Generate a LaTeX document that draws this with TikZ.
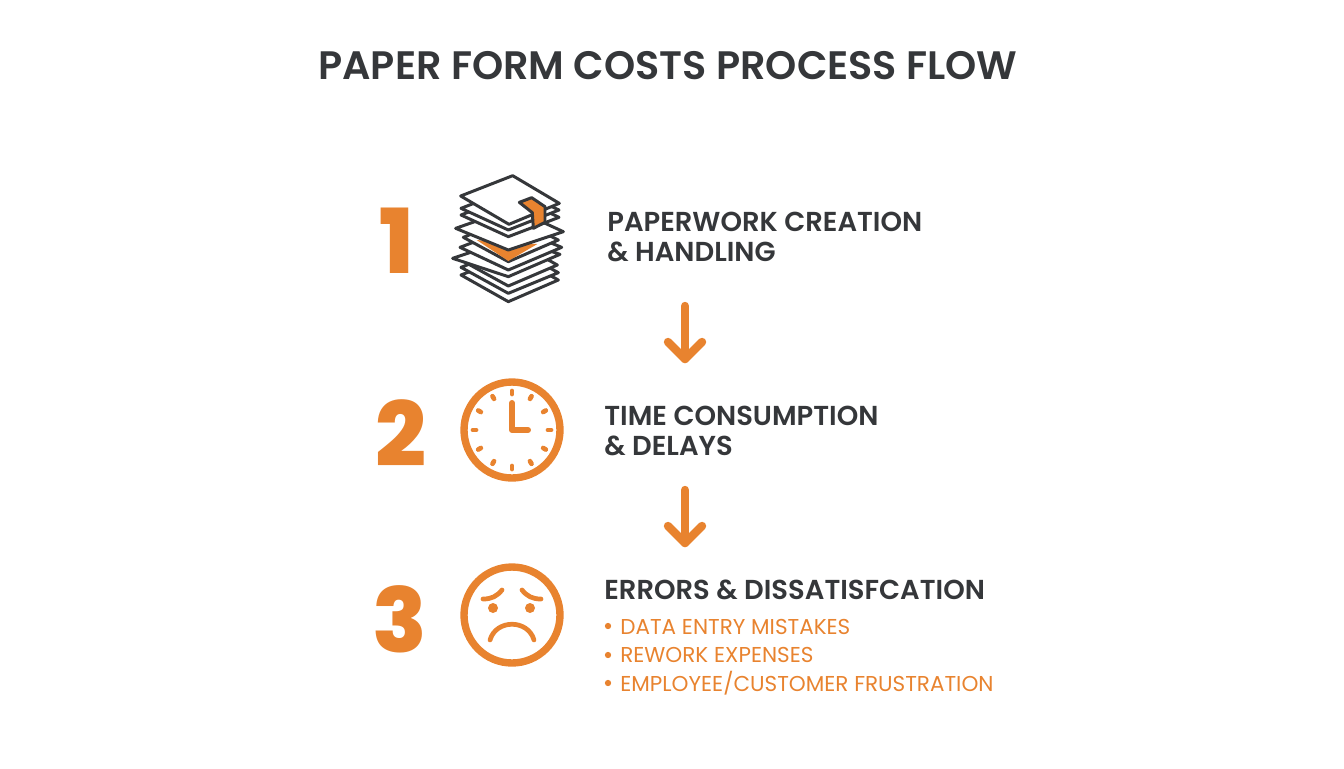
\documentclass[tikz,border=0pt]{standalone}
\usepackage{fontspec}
\usetikzlibrary{arrows.meta,calc}
\setmainfont{Poppins}[BoldFont={Poppins SemiBold}]
\newfontfamily\numfont{Poppins ExtraBold}
\definecolor{accent}{HTML}{E8832F}
\definecolor{ink}{HTML}{35373A}
\tikzset{
    numlabel/.style={anchor=base, text=accent, font=\fontsize{51}{51}\numfont},
    head/.style={anchor=base west, text=ink, font=\fontsize{15.6}{15.6}\selectfont\bfseries},
    sub/.style={anchor=base west, text=accent, font=\fontsize{12.25}{12.25}\selectfont},
    sheet/.style={draw=ink, fill=white, line width=1.7pt, line join=round},
    tick/.style={accent, line width=2.7pt, line cap=round},
    flow/.style={accent, line width=4.8pt, line cap=round, line join=round},
    ring/.style={circle, draw=accent, line width=4.2pt, minimum size=1.92cm, inner sep=0}
}
\begin{document}
\begin{tikzpicture}[x=0.02cm, y=-0.02cm]
        \useasboundingbox (0,0) rectangle (1344,768);
        \node [anchor=base, text=ink, font=\fontsize{22.6}{22.6}\selectfont\bfseries, inner sep=0] (title) at (668,79) {PAPER FORM COSTS PROCESS FLOW};

        \begin{scope}[every node/.append style={inner sep=0}]
            \node [numlabel] (n1) at (397,273) {1};
            \node [numlabel] (n2) at (401,466) {2};
            \node [numlabel] (n3) at (400,652) {3};
            \node [head] (h1a) at (607,231) {PAPERWORK CREATION};
            \node [head] (h1b) at (607,261) {\& HANDLING};
            \node [head] (h2a) at (604,425) {TIME CONSUMPTION};
            \node [head] (h2b) at (604,455) {\& DELAYS};
            \node [head] (h3) at (604,599) {ERRORS \& DISSATISFCATION};
            \node [sub] (s1) at (620,634) {DATA ENTRY MISTAKES};
            \node [sub] (s2) at (620,662) {REWORK EXPENSES};
            \node [sub] (s3) at (620,691) {EMPLOYEE/CUSTOMER FRUSTRATION};
        \end{scope}
        \foreach \y/\n in {626/b1,655/b2,683/b3}
            \node [circle, fill=accent, minimum size=3.6pt, inner sep=0] (\n) at (608,\y) {};

        \begin{scope}[shift={(360,160)}, x=0.00667cm, y=-0.00667cm]
            \foreach \lx/\ly/\by/\rx/\ry in {303/345/425/595/360, 303/322/400/595/338, 303/300/378/592/315, 278/295/350/600/283, 300/262/330/605/262, 310/232/305/595/240} {
                \draw [sheet] (\lx,\ly) -- (445,\by) -- (\rx,\ry) -- (458,\ly-60) -- cycle;
            }
            \fill [accent] (350,240) -- (445,303) -- (532,252) -- (445,250) -- cycle;
            \foreach \lx/\ly/\by/\rx/\ry in {287/205/270/610/215, 303/165/230/597/172, 303/145/210/597/150} {
                \draw [sheet] (\lx,\ly) -- (445,\by) -- (\rx,\ry) -- (458,\ly-60) -- cycle;
            }
            \draw [sheet] (302,108) -- (447,193) -- (598,130) -- (458,47) -- cycle;
            \draw [sheet, fill=accent] (478,127) -- (515,113) -- (555,140) -- (555,187) -- (520,205) -- (517,158) -- cycle;
        \end{scope}

        \node [ring] (clock) at (512,430) {};
        \foreach \a in {0,30,...,330}
            \draw [tick] ($(clock)+(\a:36)$) -- ($(clock)+(\a:39)$);
        \draw [accent, line width=3.4pt, line cap=round, line join=round] (512,403) -- (clock.center) -- (528,430);

        \node [ring] (face) at (512,615) {};
        \node [circle, fill=accent, minimum size=0.2cm, inner sep=0] (eyeL) at (493,608) {};
        \node [circle, fill=accent, minimum size=0.2cm, inner sep=0] (eyeR) at (530,608) {};
        \draw [tick] (483,599) .. controls (492,599) and (497,596) .. (502,590);
        \draw [tick] (522,590) .. controls (527,596) and (532,599) .. (541,599);
        \draw [tick] (490,640) .. controls (496,619) and (528,619) .. (534,640);

        \coordinate (a1s) at (685,306);
        \coordinate (a1e) at (685,359);
        \coordinate (a2s) at (685,490);
        \coordinate (a2e) at (685,543);
        \foreach \s/\e in {a1s/a1e,a2s/a2e} {
            \draw [flow] (\s) -- (\e);
            \draw [flow] ($(\e)+(-17,-17)$) -- (\e) -- ($(\e)+(17,-17)$);
        }
    \end{tikzpicture}
\end{document}
